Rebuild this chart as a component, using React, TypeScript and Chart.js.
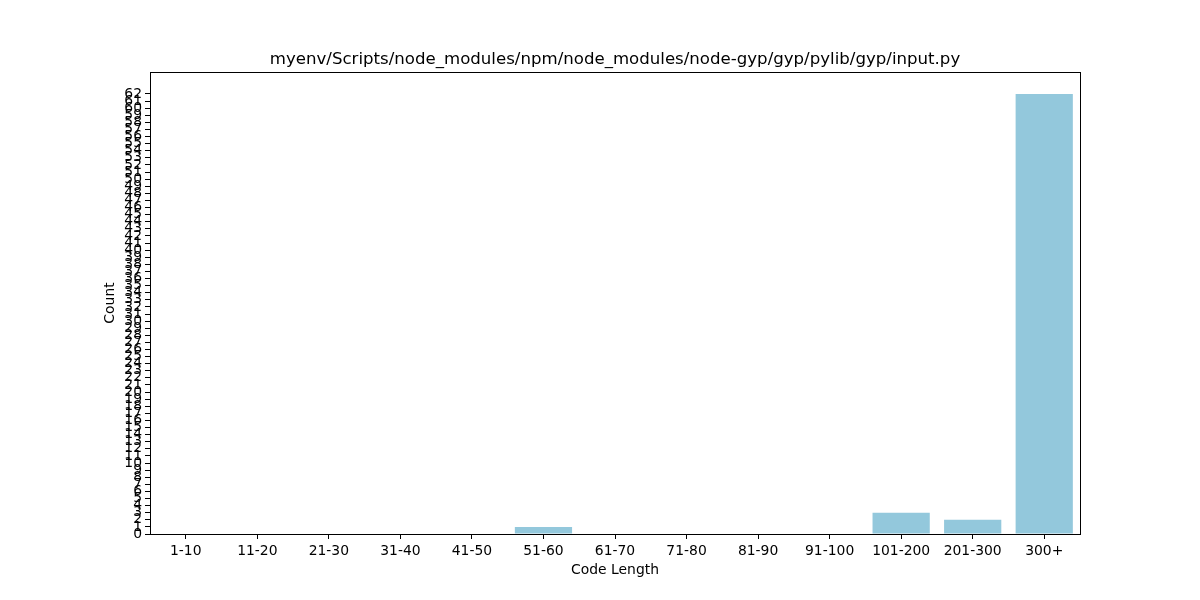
import React, { useEffect, useRef } from "react";
import { Chart, registerables } from "chart.js";

Chart.register(...registerables);

const categories = ["1-10", "11-20", "21-30", "31-40", "41-50", "51-60", "61-70", "71-80", "81-90", "91-100", "101-200", "201-300", "300+"];
const counts = [0, 0, 0, 0, 0, 1, 0, 0, 0, 0, 3, 2, 62];
const titleText = "myenv/Scripts/node_modules/npm/node_modules/node-gyp/gyp/pylib/gyp/input.py";
const xLabel = "Code Length";
const yLabel = "Count";
const yTickMax = 62;

const FONT = "'DejaVu Sans', sans-serif";

export default function App() {
  const ref = useRef<HTMLCanvasElement | null>(null);
  useEffect(() => {
    if (!ref.current) return;
    const framePlugin = {
      id: "frame",
      afterDraw(chart: any) {
        const { ctx, chartArea } = chart;
        ctx.save();
        ctx.strokeStyle = "#000";
        ctx.lineWidth = 1;
        ctx.strokeRect(Math.round(chartArea.left) + 0.5, Math.round(chartArea.top) + 0.5, Math.round(chartArea.right - chartArea.left), Math.round(chartArea.bottom - chartArea.top));
        ctx.fillStyle = "#000";
        ctx.font = `16.6px ${FONT}`;
        ctx.textAlign = "center";
        ctx.textBaseline = "alphabetic";
        ctx.fillText(titleText, (chartArea.left + chartArea.right) / 2, chartArea.top - 8);
        ctx.restore();
      },
    };
    const chart = new Chart(ref.current, {
      type: "bar",
      data: {
        labels: categories,
        datasets: [
          {
            data: counts,
            backgroundColor: "rgb(147,200,220)",
            barPercentage: 0.8,
            categoryPercentage: 1,
          },
        ],
      },
      options: {
        responsive: false,
        animation: false,
        layout: { padding: { top: 72, right: 120, left: 0, bottom: 0 } },
        plugins: { legend: { display: false }, tooltip: { enabled: false }, title: { display: false } },
        scales: {
          x: {
            type: "category",
            offset: true,
            border: { display: false },
            grid: { drawOnChartArea: false, drawTicks: true, tickLength: 5, tickColor: "#000", offset: false },
            ticks: { color: "#000", font: { family: FONT, size: 13.9 }, padding: 4, maxRotation: 0, autoSkip: false },
            title: { display: true, text: xLabel, color: "#000", font: { family: FONT, size: 13.9 }, padding: { top: 0, bottom: 21 } },
            afterFit: (axis: any) => { axis.height = 66; },
          },
          y: {
            min: 0,
            max: 65.1,
            border: { display: false },
            grid: { drawOnChartArea: false, drawTicks: true, tickLength: 5, tickColor: "#000" },
            ticks: { stepSize: 1, autoSkip: false, color: "#000", font: { family: FONT, size: 13.9 }, padding: 3 },
            afterBuildTicks: (axis: any) => {
              axis.ticks = axis.ticks.filter((t: any) => Number.isInteger(t.value) && t.value <= yTickMax);
            },
            title: { display: true, text: yLabel, color: "#000", font: { family: FONT, size: 13.9 }, padding: { top: 102, bottom: 0 } },
            afterFit: (axis: any) => { axis.width = 150; },
          },
        },
      },
      plugins: [framePlugin],
    });
    return () => chart.destroy();
  }, []);
  return (
    <div style={{ position: "absolute", left: 0, top: 0, width: 1200, height: 600, background: "#fff" }}>
      <canvas ref={ref} width={1200} height={600} style={{ width: 1200, height: 600 }} />
    </div>
  );
}
